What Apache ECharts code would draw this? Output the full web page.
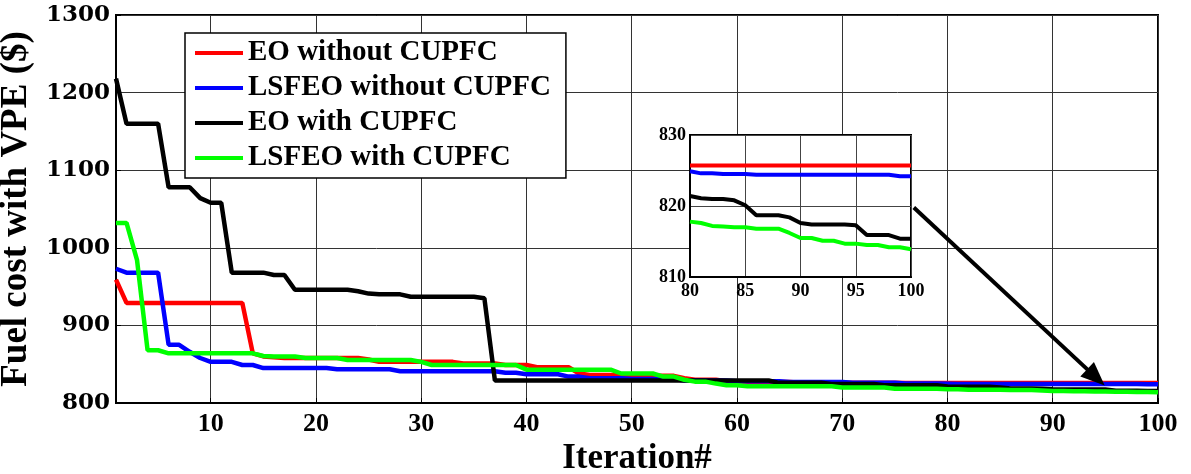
<!DOCTYPE html>
<html>
<head>
<meta charset="utf-8">
<script src="https://cdn.jsdelivr.net/npm/echarts@6.0.0/dist/echarts.min.js"></script>
<style>
  html, body { margin: 0; padding: 0; background: #fff; }
  #fuel { width: 1191px; height: 474px; }
</style>
</head>
<body>
<div id="fuel"></div>
<script>
//---- data ----
var seriesNames = ['EO without CUPFC', 'LSFEO without CUPFC', 'EO with CUPFC', 'LSFEO with CUPFC'];
var seriesColors = ['#ff0000', '#0000ff', '#000000', '#00ff00'];

var xTicks = [10, 20, 30, 40, 50, 60, 70, 80, 90, 100];

var eoWithout = [
    959, 929, 929, 929, 929, 929, 929, 929, 929, 929,
    929, 929, 929, 864, 860, 859, 858, 858, 858, 858,
    858, 858, 858, 858, 856, 853, 853, 853, 853, 853,
    853, 853, 853, 851, 851, 851, 851, 849, 849, 849,
    846, 846, 846, 846, 838, 836, 836, 836, 836, 836,
    835, 835, 835, 835, 832, 830, 830, 830, 828, 828,
    827, 827, 827, 827, 827, 826, 826, 826, 826, 826,
    826, 826, 826, 826, 826, 825.7, 825.7, 825.7, 825.7, 825.7,
    825.7, 825.7, 825.7, 825.7, 825.7, 825.7, 825.7, 825.7, 825.7, 825.7,
    825.7, 825.7, 825.7, 825.7, 825.7, 825.7, 825.7, 825.7, 825.7, 825.7
];

var lsfeoWithout = [
    973, 968, 968, 968, 968, 875, 875, 866, 858, 853,
    853, 853, 849, 849, 845, 845, 845, 845, 845, 845,
    845, 843.5, 843.5, 843.5, 843.5, 843.5, 843.5, 841, 841, 841,
    841, 841, 841, 841, 841, 841, 841, 839, 839, 837,
    837, 837, 837, 834, 834, 832, 832, 832, 832, 831,
    831, 831, 831, 831, 829, 829, 829, 829, 829, 828,
    828, 828, 828, 828, 827, 827, 827, 827, 827, 827,
    826, 826, 826, 826, 826, 825, 825, 825, 825, 824.9,
    824.6, 824.6, 824.5, 824.5, 824.5, 824.4, 824.4, 824.4, 824.4, 824.4,
    824.4, 824.4, 824.4, 824.4, 824.4, 824.4, 824.4, 824.4, 824.2, 824.2
];

var eoWith = [
    1218, 1160, 1160, 1160, 1160, 1078, 1078, 1078, 1064, 1058,
    1058, 968, 968, 968, 968, 965, 965, 946, 946, 946,
    946, 946, 946, 944, 941, 940, 940, 940, 937, 937,
    937, 937, 937, 937, 937, 935, 829, 829, 829, 829,
    829, 829, 829, 829, 829, 829, 829, 829, 829, 829,
    829, 829, 829, 829, 829, 829, 829, 829, 829, 829,
    829, 829, 829, 826, 826, 826, 826, 826, 824.5, 824.5,
    824.5, 824.5, 824.5, 823, 823, 823, 823, 823, 823, 821.4,
    821.1, 821, 821, 820.8, 820.1, 818.7, 818.7, 818.7, 818.4, 817.6,
    817.4, 817.4, 817.4, 817.4, 817.3, 815.9, 815.9, 815.9, 815.4, 815.4
];

var lsfeoWith = [
    1032, 1032, 984, 868, 868, 864, 864, 864, 864, 864,
    864, 864, 864, 864, 860.6, 860, 860, 860, 858, 858,
    858, 858, 855.4, 855.4, 855.4, 855.4, 855.4, 855.4, 855.4, 853,
    849, 849, 849, 849, 849, 849, 849, 849, 849, 843,
    843, 843, 843, 843, 843, 843, 843, 843, 838, 838,
    838, 838, 834, 834, 830, 827.5, 827.5, 825, 823, 823,
    821.5, 821.5, 821.5, 821.5, 821.5, 821.5, 821.5, 821.5, 821.5, 820,
    820, 820, 820, 820, 818.5, 818.5, 818.5, 818.5, 818.5, 817.8,
    817.6, 817.2, 817.1, 817, 817, 816.8, 816.8, 816.8, 816.2, 815.5,
    815.5, 815.1, 815.1, 814.7, 814.7, 814.5, 814.5, 814.2, 814.2, 813.9
];

// where the zoom box starts and where the arrow points
var zoomFrom = 80;
var arrowFrom = [76.8, 1052];
var arrowTo = [94.1, 833];

function renderChartFuel() {
    var dom = document.getElementById('fuel');
    var myChart = echarts.init(dom, null, { renderer: 'canvas' });
    var option;

    var allData = [eoWithout, lsfeoWithout, eoWith, lsfeoWith];
    var serif = 'Liberation Serif';

    function pairs(arr, from) {
        var out = [];
        for (var i = from; i <= arr.length; i++) {
            out.push([i, arr[i - 1]]);
        }
        return out;
    }

    var series = [];
    // main plot
    allData.forEach(function (arr, k) {
        var s = {
            name: seriesNames[k],
            type: 'line',
            xAxisIndex: 0,
            yAxisIndex: 0,
            symbol: 'none',
            z: 2,
            lineStyle: { width: 4.5, color: seriesColors[k] },
            itemStyle: { color: seriesColors[k] },
            data: pairs(arr, 1)
        };
        if (k === 2) {
            // arrow from the zoom box down to the end of the curves
            s.markLine = {
                silent: true,
                symbol: ['none', 'triangle'],
                symbolSize: [20, 24],
                label: { show: false },
                lineStyle: { color: '#000', width: 4, type: 'solid' },
                data: [[{ coord: arrowFrom }, { coord: arrowTo }]]
            };
        }
        series.push(s);
    });
    // zoomed box
    allData.forEach(function (arr, k) {
        series.push({
            name: seriesNames[k],
            type: 'line',
            xAxisIndex: 1,
            yAxisIndex: 1,
            symbol: 'none',
            clip: true,
            z: 7,
            lineStyle: { width: 4, color: seriesColors[k] },
            itemStyle: { color: seriesColors[k] },
            data: pairs(arr, zoomFrom)
        });
    });

    option = {
        animation: false,
        backgroundColor: '#fff',
        legend: {
            data: seriesNames,
            orient: 'vertical',
            left: 185,
            top: 33,
            z: 10,
            padding: [5, 15, 5, 10],
            itemGap: 5,
            itemWidth: 48,
            itemHeight: 4,
            icon: 'rect',
            backgroundColor: '#fff',
            borderColor: '#000',
            borderWidth: 1.5,
            borderRadius: 0,
            selectedMode: false,
            textStyle: {
                fontFamily: serif,
                fontWeight: 'bold',
                fontSize: 29,
                lineHeight: 30,
                color: '#000'
            }
        },
        grid: [{
            left: 116,
            right: 33,
            top: 15,
            bottom: 71,
            outerBoundsMode: 'none',
            containLabel: false,
            show: true,
            z: 0,
            backgroundColor: 'transparent',
            borderColor: '#000',
            borderWidth: 2
        }, {
            left: 690,
            top: 135,
            width: 221,
            height: 142,
            outerBoundsMode: 'none',
            containLabel: false,
            show: true,
            z: 5,
            backgroundColor: '#fff',
            borderColor: '#000',
            borderWidth: 2
        }],
        xAxis: [{
            type: 'value',
            gridIndex: 0,
            min: 1,
            max: 100,
            name: 'Iteration#',
            nameLocation: 'middle',
            nameGap: 33,
            nameTextStyle: { fontFamily: serif, fontWeight: 'bold', fontSize: 35, color: '#000' },
            axisLine: { show: true, lineStyle: { color: '#000', width: 2 } },
            axisTick: { show: true, inside: true, length: 5, customValues: xTicks, lineStyle: { color: '#000' } },
            axisLabel: {
                customValues: xTicks,
                margin: 8,
                fontFamily: serif,
                fontWeight: 'bold',
                fontSize: 26,
                color: '#000'
            },
            splitLine: { show: true, lineStyle: { color: '#333', width: 1 } }
        }, {
            type: 'value',
            gridIndex: 1,
            min: 80,
            max: 100,
            interval: 5,
            z: 6,
            axisLine: { show: true, lineStyle: { color: '#000', width: 2 } },
            axisTick: { show: false },
            axisLabel: {
                margin: 5,
                fontFamily: serif,
                fontWeight: 'bold',
                fontSize: 18,
                color: '#000'
            },
            splitLine: { show: true, lineStyle: { color: '#444', width: 1 } }
        }],
        yAxis: [{
            type: 'value',
            gridIndex: 0,
            min: 800,
            max: 1300,
            interval: 100,
            name: 'Fuel cost with VPE ($)',
            nameLocation: 'middle',
            nameRotate: 90,
            nameGap: 76,
            nameTextStyle: { fontFamily: serif, fontWeight: 'bold', fontSize: 37, color: '#000' },
            axisLine: { show: true, lineStyle: { color: '#000', width: 2 } },
            axisTick: { show: true, inside: true, length: 5, lineStyle: { color: '#000' } },
            axisLabel: {
                margin: 6,
                formatter: function (v) { return String(v); },
                fontFamily: 'DejaVu Serif',
                fontWeight: 'bold',
                fontSize: 23,
                color: '#000'
            },
            splitLine: { show: true, lineStyle: { color: '#333', width: 1 } }
        }, {
            type: 'value',
            gridIndex: 1,
            min: 810,
            max: 830,
            interval: 10,
            z: 6,
            axisLine: { show: true, lineStyle: { color: '#000', width: 2 } },
            axisTick: { show: false },
            axisLabel: {
                margin: 4,
                fontFamily: serif,
                fontWeight: 'bold',
                fontSize: 18,
                color: '#000'
            },
            splitLine: { show: true, lineStyle: { color: '#444', width: 1 } }
        }],
        series: series
    };

    if (option && typeof option === 'object') {
        myChart.setOption(option);
    }
}
renderChartFuel();
</script>
</body>
</html>
